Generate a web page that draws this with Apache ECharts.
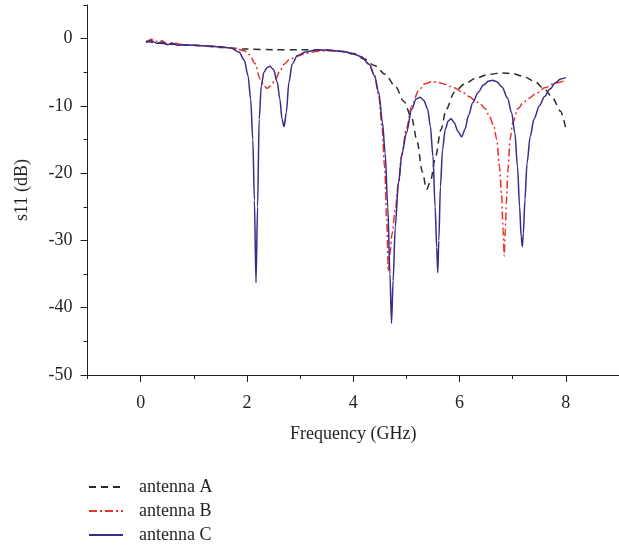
<!DOCTYPE html>
<html><head><meta charset="utf-8">
<script src="https://cdn.jsdelivr.net/npm/echarts@6/dist/echarts.min.js"></script>
<style>html,body{margin:0;padding:0;background:#fff}#c{width:619px;height:550px}</style>
</head><body><div id="c"></div>
<script>
const seriesNames = ['antenna A', 'antenna B', 'antenna C'];
const xTickLabels = [0, 2, 4, 6, 8];
const yTickLabels = [-50, -40, -30, -20, -10, 0];

const freqA = [0.1,0.3,0.5,1.0,1.5,2.0,2.5,3.0,3.5,3.8,4.0,4.2,4.4,4.6,4.8,4.95,5.1,5.2,5.3,5.38,5.45,5.55,5.65,5.75,5.9,6.1,6.3,6.55,6.8,7.0,7.2,7.4,7.6,7.75,7.9,8.0];
const s11A = [-0.4,-0.6,-0.8,-1.0,-1.3,-1.55,-1.65,-1.65,-1.7,-1.9,-2.3,-3.0,-4.0,-5.3,-7.2,-9.3,-11.8,-15.2,-19.8,-22.4,-21.3,-17.5,-13.5,-10.5,-8.0,-6.7,-5.9,-5.3,-5.1,-5.2,-5.6,-6.3,-7.5,-8.8,-10.8,-13.4];

const freqB = [0.1,0.2,0.3,0.4,0.5,0.6,0.8,1.0,1.3,1.6,1.8,1.95,2.05,2.15,2.25,2.32,2.38,2.45,2.54,2.62,2.7,2.8,2.95,3.1,3.3,3.5,3.8,4.0,4.15,4.3,4.4,4.48,4.54,4.59,4.63,4.66,4.69,4.73,4.79,4.85,4.91,5.0,5.1,5.23,5.35,5.48,5.6,5.73,5.9,6.04,6.18,6.29,6.4,6.48,6.56,6.64,6.7,6.75,6.79,6.82,6.84,6.86,6.88,6.91,6.95,7.0,7.1,7.2,7.3,7.45,7.6,7.8,8.0];
const s11B = [-0.6,-0.1,-0.4,-0.3,-0.8,-0.6,-0.9,-1.0,-1.1,-1.3,-1.5,-1.8,-2.4,-3.7,-6.0,-7.0,-7.4,-7.0,-6.0,-4.8,-3.8,-3.1,-2.6,-2.2,-1.9,-1.8,-1.9,-2.2,-2.7,-3.8,-5.5,-8.5,-13,-19,-27,-34.6,-32,-29,-25.5,-21.5,-17.4,-13.4,-10,-7.7,-6.7,-6.4,-6.5,-6.8,-7.3,-7.9,-8.6,-9.2,-9.8,-10.4,-11.5,-12.9,-15,-19,-23,-28.5,-32.3,-28.5,-24.5,-19.5,-15,-12.5,-10.4,-9.5,-8.9,-8.1,-7.3,-6.6,-6.2];

const freqC = [0.1,0.2,0.3,0.4,0.5,0.6,0.7,0.8,1.0,1.2,1.5,1.7,1.85,1.95,2.02,2.07,2.11,2.14,2.17,2.2,2.23,2.27,2.32,2.38,2.43,2.5,2.57,2.62,2.66,2.7,2.74,2.79,2.85,2.95,3.1,3.3,3.5,3.8,4.0,4.15,4.3,4.4,4.48,4.55,4.6,4.65,4.69,4.72,4.75,4.79,4.85,4.92,5.0,5.1,5.18,5.26,5.33,5.4,5.45,5.5,5.54,5.57,5.59,5.61,5.64,5.68,5.73,5.79,5.84,5.9,5.97,6.04,6.1,6.17,6.25,6.35,6.45,6.55,6.62,6.7,6.8,6.9,6.98,7.04,7.09,7.13,7.16,7.18,7.2,7.23,7.27,7.33,7.4,7.5,7.6,7.7,7.8,7.9,8.0];
const s11C = [-0.5,-0.3,-0.7,-0.5,-0.9,-0.7,-1.0,-0.9,-1.0,-1.05,-1.2,-1.4,-2.0,-3.2,-5.5,-9,-15,-24,-36.3,-25,-12,-7,-5,-4.3,-4.1,-4.6,-6.5,-9,-12,-13.1,-11,-6.5,-3.8,-2.5,-2.0,-1.7,-1.7,-1.9,-2.2,-2.7,-3.8,-5.5,-8,-12.5,-17,-25,-35,-42.3,-36,-28,-21.5,-17,-14,-10.5,-9,-8.7,-9.2,-10.5,-13,-17.5,-25,-31,-34.8,-30,-22,-16.5,-13.5,-12.2,-11.9,-12.5,-13.8,-14.6,-13.5,-11.4,-9.5,-8,-6.9,-6.3,-6.2,-6.4,-7.2,-8.8,-11,-14,-19,-25,-29.5,-30.9,-29,-24,-18.5,-14.5,-12,-10,-8.6,-7.5,-6.6,-6.0,-5.8];

const zip = (xs, ys) => xs.map((x, i) => [x, ys[i]]);
const ink = '#231f20';
const font = 'Liberation Serif';
const legendTops = [478, 502, 526];

const chart = echarts.init(document.getElementById('c'), null, {renderer: 'canvas'});
chart.setOption({
  backgroundColor: '#fff',
  animation: false,
  grid: {left: 87.5, right: 0, top: 5, bottom: 175, containLabel: false},
  legend: seriesNames.map((n, i) => ({
    orient: 'vertical', left: 88, top: legendTops[i], padding: 0,
    itemWidth: 34, itemHeight: 14, itemGap: 0,
    itemStyle: {color: 'transparent', borderWidth: 0, opacity: 0},
    textStyle: {fontFamily: font, fontSize: 18, lineHeight: 18, color: ink, padding: [0, 0, 0, 11]},
    data: [n]
  })),
  xAxis: [{
    type: 'value', min: -1, max: 9,
    name: 'Frequency (GHz)', nameLocation: 'middle', nameGap: 50,
    nameTextStyle: {fontFamily: font, fontSize: 18, color: ink},
    axisLine: {onZero: false, lineStyle: {color: ink, width: 1}},
    axisTick: {show: true, length: 7, customValues: xTickLabels, lineStyle: {color: ink}},
    axisLabel: {customValues: xTickLabels, fontFamily: font, fontSize: 18, color: ink, margin: 19},
    splitLine: {show: false}
  }, {
    type: 'value', min: -1, max: 9, position: 'bottom',
    axisLine: {show: false, onZero: false},
    axisTick: {show: true, length: 4, customValues: [-1, 1, 3, 5, 7], lineStyle: {color: ink}},
    axisLabel: {show: false},
    splitLine: {show: false}
  }],
  yAxis: [{
    type: 'value', min: -50, max: 5,
    name: 's11 (dB)', nameLocation: 'middle', nameGap: 56,
    nameTextStyle: {fontFamily: font, fontSize: 18, color: ink},
    axisLine: {onZero: false, lineStyle: {color: ink, width: 1}},
    axisTick: {show: true, length: 7, customValues: yTickLabels, lineStyle: {color: ink}},
    axisLabel: {customValues: yTickLabels, fontFamily: font, fontSize: 18, color: ink, margin: 15},
    splitLine: {show: false}
  }, {
    type: 'value', min: -50, max: 5, position: 'left',
    axisLine: {show: false, onZero: false},
    axisTick: {show: true, length: 4, customValues: [-45, -35, -25, -15, -5, 5], lineStyle: {color: ink}},
    axisLabel: {show: false},
    splitLine: {show: false}
  }],
  series: [
    {name: seriesNames[0], type: 'line', data: zip(freqA, s11A), symbol: 'none', smooth: 0.3, smoothMonotone: 'x',
     lineStyle: {color: '#2b2b2b', width: 1.5, type: [7, 5]}, itemStyle: {color: '#2b2b2b'}},
    {name: seriesNames[1], type: 'line', data: zip(freqB, s11B), symbol: 'none', smooth: 0.3, smoothMonotone: 'x',
     lineStyle: {color: '#e8332a', width: 1.5, type: [8, 3, 2, 3]}, itemStyle: {color: '#e8332a'}},
    {name: seriesNames[2], type: 'line', data: zip(freqC, s11C), symbol: 'none', smooth: 0.3, smoothMonotone: 'x',
     lineStyle: {color: '#3a2a8c', width: 1.5}, itemStyle: {color: '#3a2a8c'}}
  ]
});
</script>
</body></html>
